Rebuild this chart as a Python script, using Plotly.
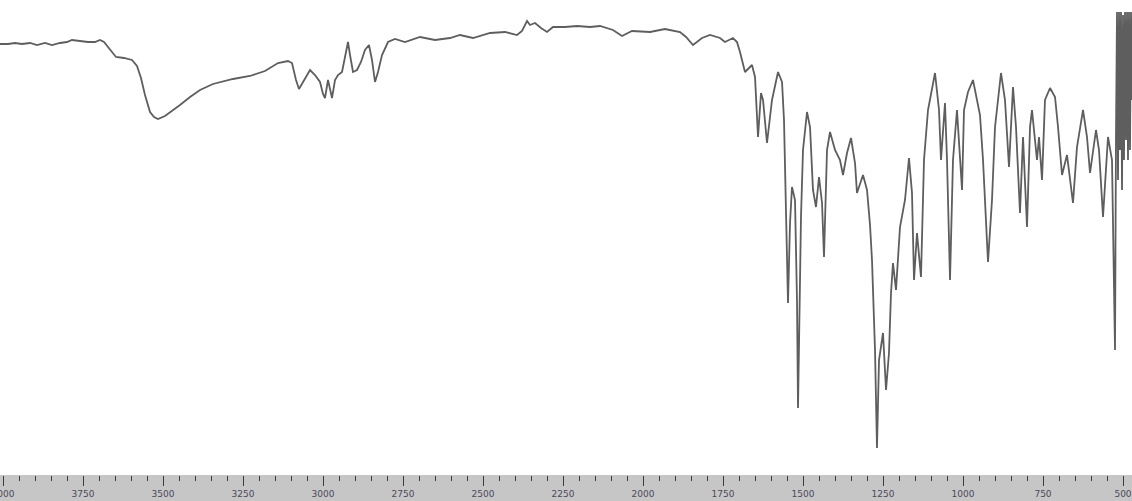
import plotly.graph_objects as go

# IR spectrum: wavenumber (cm-1) and transmittance (%T)
wavenumber = [
    4009.4, 3984.4, 3962.5, 3940.6, 3915.6, 3893.8, 3868.8, 3846.9, 3821.9, 3800.0,
    3784.4, 3759.4, 3734.4, 3712.5, 3696.9, 3684.4, 3665.6, 3646.9, 3621.9, 3596.9,
    3581.3, 3568.8, 3556.3, 3540.6, 3528.1, 3515.6, 3493.8, 3471.9, 3446.9, 3415.6,
    3384.4, 3343.8, 3281.3, 3228.1, 3181.3, 3140.6, 3109.4, 3096.9, 3084.4, 3075.0,
    3056.3, 3040.6, 3025.0, 3009.4, 3000.0, 2993.8, 2984.4, 2978.1, 2971.9, 2962.5,
    2953.1, 2940.6, 2928.1, 2921.9, 2915.6, 2906.3, 2893.8, 2881.3, 2868.8, 2856.3,
    2846.9, 2837.5, 2828.1, 2815.6, 2796.9, 2775.0, 2743.8, 2696.9, 2650.0, 2603.1,
    2571.9, 2531.3, 2478.1, 2431.3, 2393.8, 2378.1, 2362.5, 2353.1, 2337.5, 2318.8,
    2300.0, 2281.3, 2243.8, 2206.3, 2165.6, 2134.4, 2093.8, 2065.6, 2034.4, 1978.1,
    1931.3, 1884.4, 1865.6, 1843.8, 1815.6, 1790.6, 1759.4, 1743.8, 1718.8, 1706.3,
    1696.9, 1681.3, 1668.8, 1659.4, 1650.0, 1643.8, 1640.6, 1631.3, 1625.0, 1612.5,
    1596.9, 1578.1, 1565.6, 1559.4, 1553.1, 1546.9, 1540.6, 1534.4, 1525.0, 1518.8,
    1515.6, 1509.4, 1506.3, 1500.0, 1487.5, 1478.1, 1468.8, 1459.4, 1450.0, 1440.6,
    1434.4, 1425.0, 1415.6, 1400.0, 1384.4, 1375.0, 1362.5, 1350.0, 1337.5, 1331.3,
    1312.5, 1300.0, 1290.6, 1284.4, 1275.0, 1268.8, 1262.5, 1250.0, 1240.6, 1231.3,
    1225.0, 1218.8, 1209.4, 1196.9, 1181.3, 1168.8, 1159.4, 1153.1, 1143.8, 1131.3,
    1121.9, 1109.4, 1087.5, 1075.0, 1068.8, 1056.3, 1050.0, 1040.6, 1031.3, 1018.8,
    1003.1, 996.9, 984.4, 968.8, 946.9, 937.5, 921.9, 909.4, 900.0, 881.3,
    868.8, 856.3, 843.8, 834.4, 821.9, 812.5, 800.0, 790.6, 784.4, 768.8,
    762.5, 753.1, 743.8, 728.1, 712.5, 703.1, 690.6, 675.0, 656.3, 643.8,
    625.0, 612.5, 603.1, 584.4, 575.0, 562.5, 546.9, 534.4, 525.0, 521.9,
    518.8, 515.6, 512.5, 509.4, 506.3, 503.1, 500.0, 496.9, 493.8, 490.6,
    487.5, 484.4, 481.3, 478.1, 475.0, 471.9,
]
transmittance = [
    91.2, 91.2, 91.4, 91.2, 91.4, 91.0, 91.4, 91.0, 91.4, 91.6,
    92.0, 91.8, 91.6, 91.6, 92.0, 91.6, 90.0, 88.6, 88.4, 88.0,
    86.8, 84.4, 81.0, 77.6, 76.6, 76.2, 76.8, 77.8, 79.0, 80.6,
    82.0, 83.2, 84.2, 84.8, 85.8, 87.4, 87.8, 87.4, 84.0, 82.2,
    84.4, 86.0, 85.0, 83.6, 81.2, 80.4, 84.0, 82.4, 80.4, 84.0,
    85.0, 85.6, 89.6, 91.6, 89.0, 85.6, 86.0, 87.6, 90.0, 91.0,
    88.0, 83.6, 85.6, 89.0, 91.6, 92.2, 91.6, 92.6, 92.0, 92.4,
    93.0, 92.4, 93.4, 93.6, 93.0, 93.8, 95.8, 95.0, 95.4, 94.4,
    93.6, 94.6, 94.6, 94.8, 94.6, 94.8, 94.0, 92.8, 93.8, 93.6,
    94.2, 93.6, 92.6, 91.0, 92.4, 93.0, 92.4, 91.6, 92.4, 91.6,
    89.6, 85.6, 86.4, 87.0, 84.6, 78.0, 72.6, 81.4, 80.0, 71.4,
    80.0, 85.6, 83.6, 76.0, 60.0, 39.4, 55.4, 62.6, 60.0, 40.0,
    18.4, 40.0, 56.6, 70.0, 77.6, 74.6, 62.0, 58.6, 64.6, 59.4,
    48.6, 70.0, 73.6, 70.0, 68.0, 65.0, 69.4, 72.4, 67.4, 61.4,
    65.0, 62.0, 55.0, 48.0, 30.0, 10.4, 28.0, 33.4, 22.0, 29.4,
    41.4, 47.4, 42.0, 54.6, 60.0, 68.4, 61.4, 44.0, 53.4, 44.6,
    68.0, 78.0, 85.4, 78.0, 68.0, 79.4, 68.0, 44.0, 68.0, 78.0,
    62.0, 78.0, 81.6, 84.0, 77.0, 68.0, 47.6, 60.0, 74.6, 85.4,
    80.0, 66.6, 82.6, 74.6, 57.4, 72.6, 54.6, 74.6, 78.0, 68.0,
    72.6, 64.0, 80.0, 82.4, 80.6, 74.6, 65.0, 69.0, 59.4, 70.6,
    78.0, 72.6, 65.4, 74.0, 70.0, 56.6, 72.6, 68.0, 30.0, 73.0,
    97.6, 64.0, 97.6, 70.0, 97.6, 62.0, 97.0, 68.0, 97.6, 72.0,
    97.6, 68.0, 97.6, 70.0, 97.6, 80.0,
]

major_ticks = [4000, 3750, 3500, 3250, 3000, 2750, 2500, 2250, 2000, 1750, 1500, 1250, 1000, 750, 500]
tick_labels = [str(v) for v in major_ticks]

fig = go.Figure()
fig.add_trace(go.Scatter(
    x=wavenumber, y=transmittance, mode="lines",
    line=dict(color="#5e5e5e", width=1.8),
    hoverinfo="x+y",
))

fig.update_layout(
    width=1132, height=501,
    margin=dict(l=0, r=0, t=0, b=26, pad=0, autoexpand=False),
    paper_bgcolor="#c6c6c6",
    plot_bgcolor="#ffffff",
    showlegend=False,
    xaxis=dict(
        range=[4009.4, 471.9],
        automargin=False,
        tickmode="array", tickvals=major_ticks, ticktext=tick_labels,
        ticks="outside", ticklen=10, tickwidth=1, tickcolor="#3a3a3a",
        minor=dict(dtick=50, ticks="outside", ticklen=5, tickwidth=1, tickcolor="#3a3a3a"),
        showgrid=False, zeroline=False, showline=False,
        tickfont=dict(family="DejaVu Sans", size=9, color="#4a4a5a"),
        ticklabelstandoff=0,
        ticklabeloverflow="allow",
        fixedrange=True,
    ),
    yaxis=dict(range=[5, 100], visible=False, automargin=False,
               showgrid=False, zeroline=False, fixedrange=True),
)

fig.write_html(
    "out.html",
    config={"displayModeBar": False},
    post_script="document.body.style.margin='0';document.body.style.overflow='hidden';",
)
